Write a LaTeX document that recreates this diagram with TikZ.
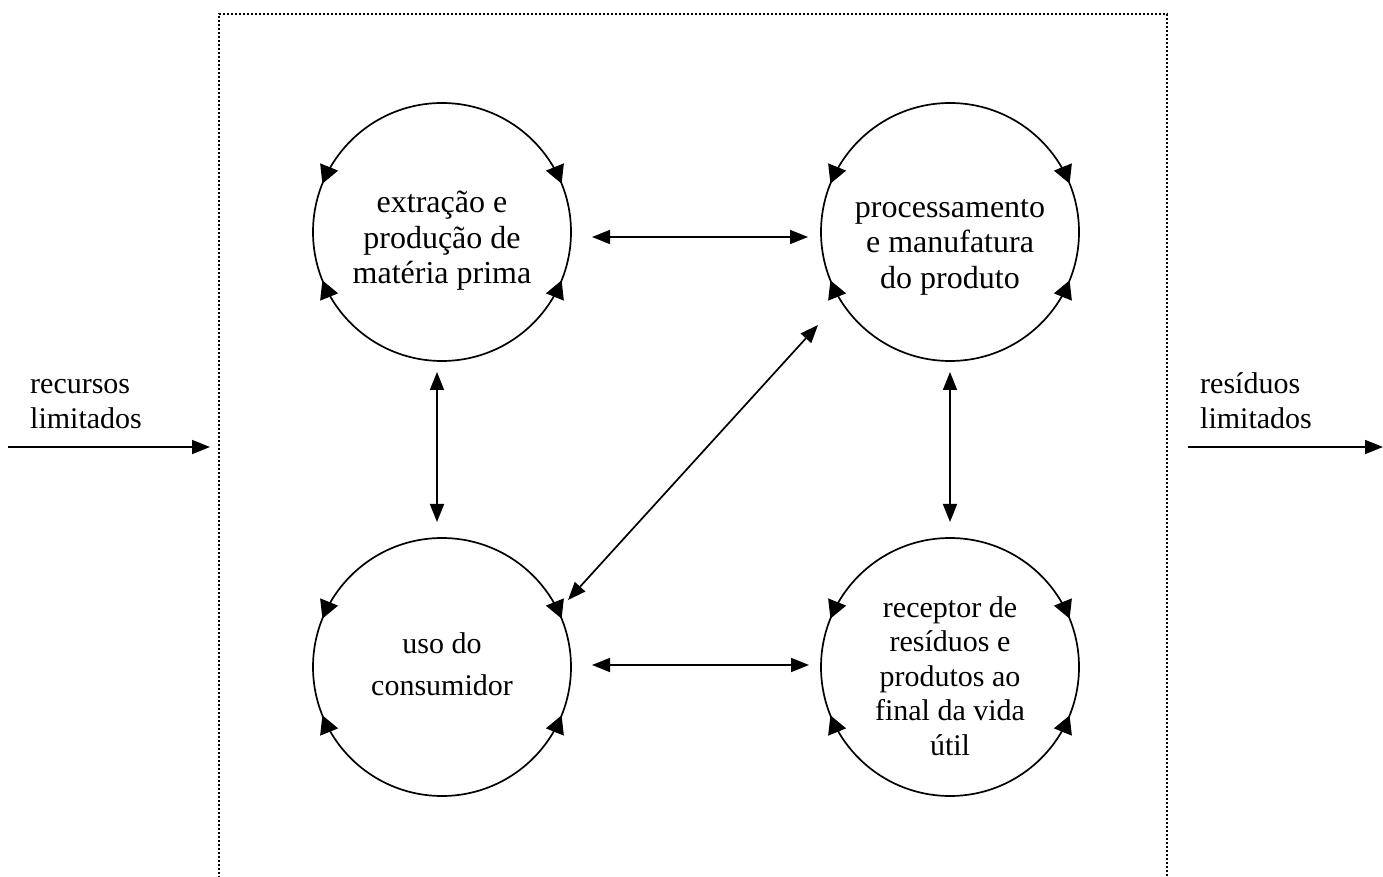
\documentclass[tikz,border=0pt]{standalone}
\usepackage{fontspec}
\setmainfont{Liberation Serif}
\usetikzlibrary{arrows.meta,calc}
\begin{document}
\begin{tikzpicture}[x=1pt,y=1pt,
  every node/.style={font=\fontsize{30}{35}\selectfont},
  stage/.style={circle, draw, line width=1.7pt, minimum size=258pt, inner sep=0pt, outer sep=0pt},
  stagetext/.style={align=center, inner sep=0pt},
  big/.style={font=\fontsize{32}{35.5}\selectfont},
  link/.style={line width=1.7pt, {Triangle[length=18pt,width=14pt]}-{Triangle[length=18pt,width=14pt]}},
  flow/.style={line width=1.7pt, -{Triangle[length=18pt,width=14pt]}},
  turn/.style={line width=1.7pt, tips, {Triangle[length=18pt,width=19pt]}-{Triangle[length=18pt,width=19pt]}},
  boundary/.style={line width=1.6pt, dash pattern=on 1.6pt off 2.4pt},
  label/.style={anchor=west, align=left, inner sep=0pt}]
\useasboundingbox (0,0) rectangle (1383,876);

% system boundary (open at the bottom)
\draw[boundary] (219,-10) -- (219,862) -- (1167,862) -- (1167,-10);

% life-cycle stages
\node[stage] (ext)  at (442,644) {};
\node[stage] (proc) at (950,644) {};
\node[stage] (uso)  at (442,209) {};
\node[stage] (rec)  at (950,209) {};

\node[stagetext, big] (extT)  at ([yshift=-9pt]ext.center)  {extração e\\produção de\\matéria prima};
\node[stagetext, big] (procT) at ([yshift=-15pt]proc.center) {processamento\\e manufatura\\do produto};
\node[stagetext] (usoT) at ([yshift=3pt]uso.center) {uso do\\[7pt]consumidor};
\node[stagetext, font=\fontsize{30}{34.5}\selectfont] (recT) at ([yshift=-9pt]rec.center)
  {receptor de\\resíduos e\\produtos ao\\final da vida\\útil};

% internal loops on each stage (arrow tips only, on the circle outline)
\foreach \n in {ext,proc,uso,rec}{
  \path[turn] (\n.158) arc[start angle=158, end angle=22, radius=129pt];
  \path[turn] (\n.202) arc[start angle=202, end angle=338, radius=129pt];
}

% exchanges between stages
\draw[link, shorten <=21pt, shorten >=13pt] ([yshift=-5pt]ext.east) -- ([yshift=-5pt]proc.west);
\draw[link, shorten <=21pt, shorten >=12pt] ([yshift=2pt]uso.east) -- ([yshift=2pt]rec.west);
\draw[link, shorten <=11pt, shorten >=16pt] ([xshift=-5pt]ext.south) -- ([xshift=-5pt]uso.north);
\draw[link, shorten <=11pt, shorten >=16pt] (proc.south) -- (rec.north);
\draw[link] ($(proc.center)+(-132,-93)$) -- ($(uso.center)+(126,67)$);

% inputs and outputs of the system
\coordinate (inA) at (8,429);
\coordinate (inB) at (210,429);
\coordinate (outA) at (1188,429);
\coordinate (outB) at (1383,429);
\draw[flow] (inA) -- (inB);
\draw[flow] (outA) -- (outB);
\node[label] (inlbl)  at (30,472)   {recursos\\limitados};
\node[label] (outlbl) at (1200,475) {resíduos\\limitados};
\end{tikzpicture}
\end{document}
